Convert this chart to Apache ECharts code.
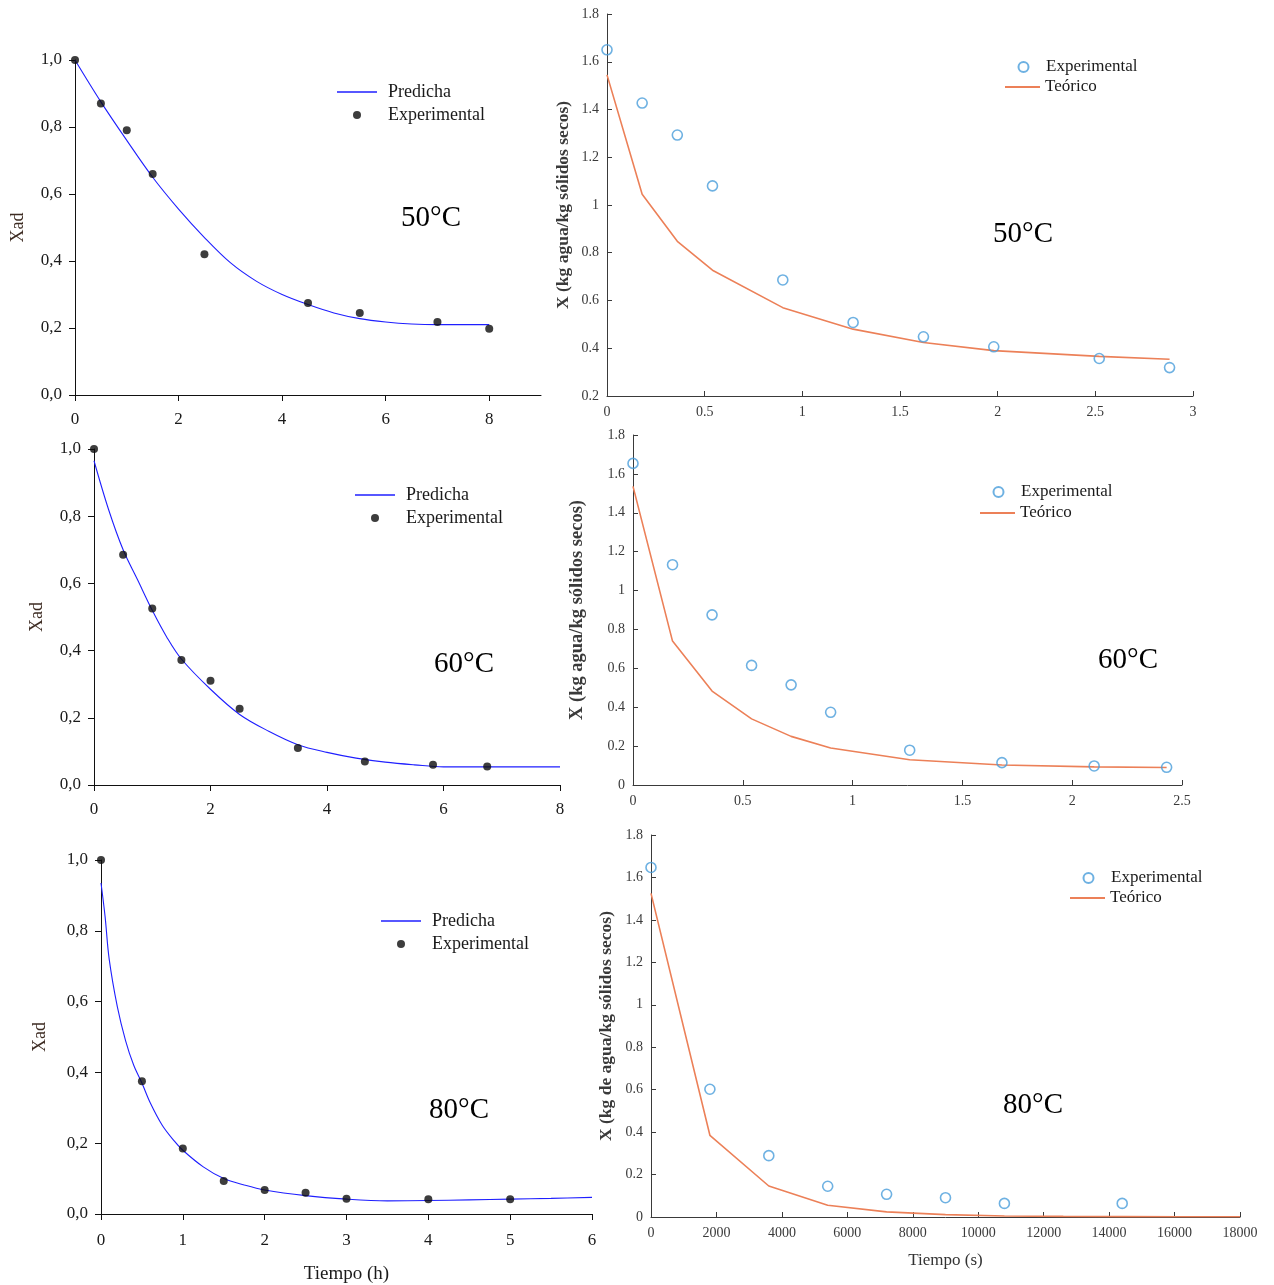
<!DOCTYPE html>
<html>
<head>
<meta charset="utf-8">
<script src="https://cdn.jsdelivr.net/npm/echarts@6/dist/echarts.min.js"></script>
<style>
html, body { margin: 0; padding: 0; background: #fff; }
#chart { width: 1274px; height: 1285px; }
</style>
</head>
<body>
<div id="chart"></div>
<script>
// ---- Dimensionless moisture Xad vs time (h): experimental points and fitted curve ----
const expT50 = [0, 0.5, 1, 1.5, 2.5, 4.5, 5.5, 7, 8];
const expXad50 = [1.0, 0.87, 0.79, 0.66, 0.42, 0.275, 0.245, 0.218, 0.198];
const fitT50 = [0, 0.5, 1, 1.5, 2, 2.5, 3, 3.5, 4, 4.5, 5, 5.5, 6, 6.5, 7, 7.5, 8];
const fitXad50 = [1.0, 0.875, 0.76, 0.65, 0.555, 0.47, 0.395, 0.34, 0.30, 0.27, 0.245, 0.228, 0.218, 0.212, 0.21, 0.21, 0.21];

const expT60 = [0, 0.5, 1, 1.5, 2, 2.5, 3.5, 4.65, 5.82, 6.75];
const expXad60 = [1.0, 0.685, 0.525, 0.372, 0.31, 0.227, 0.11, 0.07, 0.06, 0.055];
const fitT60 = [0, 0.25, 0.5, 0.75, 1, 1.25, 1.5, 2, 2.5, 3, 3.5, 4, 4.5, 5, 5.5, 6, 7, 8];
const fitXad60 = [0.965, 0.82, 0.70, 0.61, 0.52, 0.44, 0.375, 0.285, 0.21, 0.16, 0.12, 0.097, 0.08, 0.068, 0.06, 0.054, 0.054, 0.054];

const expT80 = [0, 0.5, 1, 1.5, 2, 2.5, 3, 4, 5];
const expXad80 = [1.0, 0.375, 0.185, 0.093, 0.068, 0.06, 0.043, 0.042, 0.042];
const fitT80 = [0, 0.05, 0.1, 0.2, 0.3, 0.4, 0.5, 0.6, 0.75, 0.9, 1, 1.25, 1.5, 1.75, 2, 2.5, 3, 3.5, 4, 4.5, 5, 5.5, 6];
const fitXad80 = [0.935, 0.84, 0.72, 0.585, 0.49, 0.42, 0.37, 0.315, 0.25, 0.205, 0.18, 0.133, 0.10, 0.082, 0.068, 0.052, 0.042, 0.037, 0.038, 0.04, 0.042, 0.044, 0.047];

// ---- Moisture content X (kg agua/kg sólidos secos): experimental vs theoretical ----
const timeR50 = [0, 0.18, 0.36, 0.54, 0.9, 1.26, 1.62, 1.98, 2.52, 2.88];
const expX50 = [1.65, 1.427, 1.293, 1.08, 0.686, 0.508, 0.448, 0.406, 0.357, 0.319];
const teoX50 = [1.545, 1.045, 0.848, 0.727, 0.57, 0.48, 0.424, 0.39, 0.366, 0.354];

const timeR60 = [0, 0.18, 0.36, 0.54, 0.72, 0.9, 1.26, 1.68, 2.1, 2.43];
const expX60 = [1.654, 1.133, 0.875, 0.615, 0.515, 0.374, 0.179, 0.115, 0.098, 0.091];
const teoX60 = [1.536, 0.74, 0.483, 0.34, 0.25, 0.19, 0.13, 0.103, 0.093, 0.09];

const expTs80 = [0, 1800, 3600, 5400, 7200, 9000, 10800, 14400];
const expX80 = [1.647, 0.602, 0.289, 0.145, 0.107, 0.091, 0.064, 0.064];
const teoTs80 = [0, 1800, 3600, 5400, 7200, 9000, 10800, 12600, 14400, 16200, 18000];
const teoX80 = [1.525, 0.385, 0.146, 0.055, 0.024, 0.011, 0.005, 0.003, 0.002, 0.001, 0.001];

// ---- Tick values ----
const xadTicks = [0, 0.2, 0.4, 0.6, 0.8, 1.0];
const hourTicks8 = [0, 2, 4, 6, 8];
const hourTicks6 = [0, 1, 2, 3, 4, 5, 6];

const SERIF = '"Liberation Serif", "DejaVu Serif", serif';
const pairs = (xs, ys) => xs.map((x, i) => [x, ys[i]]);

const grids = [], xAxes = [], yAxes = [], series = [], legends = [], texts = [];

// One legend entry per component so each row sits exactly under its neighbour.
// Symbol icons are drawn at the start of the item box, so they are shifted to sit
// at the centre of the line icon above/below them.
function legendItem(name, icon, left, cy, itemWidth, itemHeight, fontSize, textPad) {
  const shift = icon === 'circle' ? itemWidth / 2 - itemHeight / 2 : 0;
  legends.push({
    data: [{ name: name, icon: icon }],
    left: left + shift, top: cy - fontSize / 2 - 1,
    padding: 0, itemWidth: itemWidth, itemHeight: itemHeight,
    selectedMode: false,
    formatter: n => n.split('@')[0],
    textStyle: { fontFamily: SERIF, fontSize: fontSize, color: '#1a1a1a', padding: [0, 0, 0, textPad] }
  });
}

// Left column: Xad vs time (h)
function leftPanel(p) {
  const gi = grids.length;
  grids.push({ left: p.left, top: p.top, width: p.width, height: p.height, containLabel: false });
  xAxes.push({
    type: 'value', gridIndex: gi, min: 0, max: p.xMax,
    name: p.xName || '', nameLocation: 'middle', nameGap: 51,
    nameTextStyle: { fontFamily: SERIF, fontSize: 19, color: '#1a1a1a' },
    axisLine: { lineStyle: { color: '#111', width: 1 } },
    axisTick: { length: 6, lineStyle: { color: '#111' }, customValues: p.xTicks },
    axisLabel: { customValues: p.xTicks, fontFamily: SERIF, fontSize: 17, color: '#1a1a1a', margin: p.xMargin },
    splitLine: { show: false }
  });
  yAxes.push({
    type: 'value', gridIndex: gi, min: 0, max: 1, interval: 0.2,
    name: 'Xad', nameLocation: 'middle', nameRotate: 90, nameGap: p.nameGap,
    nameTextStyle: { fontFamily: SERIF, fontSize: 18, color: '#3d2b22' },
    axisLine: { show: true, lineStyle: { color: '#111', width: 1 } },
    axisTick: { show: true, length: 6, lineStyle: { color: '#111' }, customValues: xadTicks },
    axisLabel: { customValues: xadTicks, fontFamily: SERIF, fontSize: 17, color: '#1a1a1a', margin: 13,
      formatter: v => v.toFixed(1).replace('.', ',') },
    splitLine: { show: false }
  });
  series.push({
    name: 'Predicha@' + p.tag, type: 'line', xAxisIndex: gi, yAxisIndex: gi,
    data: pairs(p.fitX, p.fitY), smooth: 0.35, symbol: 'none',
    lineStyle: { color: '#1f1fff', width: 1.1 }, itemStyle: { color: '#1f1fff' }, z: 2
  });
  series.push({
    name: 'Experimental@' + p.tag, type: 'scatter', xAxisIndex: gi, yAxisIndex: gi,
    data: pairs(p.expX, p.expY), symbol: 'circle', symbolSize: 8,
    itemStyle: { color: '#0d0d0d' }, z: 3
  });
  legendItem('Predicha@' + p.tag, 'rect', p.lg[0], p.lg[1], 40, 1.3, 18, 6);
  legendItem('Experimental@' + p.tag, 'circle', p.lg[0], p.lg[1] + 23, 40, 8, 18, 6);
  texts.push({ text: p.temp, x: p.tempPos[0], y: p.tempPos[1] });
}

// Right column: X vs time
function rightPanel(p) {
  const gi = grids.length;
  grids.push({ left: p.left, top: p.top, width: p.width, height: p.height, containLabel: false });
  xAxes.push({
    type: 'value', gridIndex: gi, min: 0, max: p.xMax, interval: p.xInterval,
    name: p.xName || '', nameLocation: 'middle', nameGap: 35,
    nameTextStyle: { fontFamily: SERIF, fontSize: 17, color: '#333' },
    axisLine: { lineStyle: { color: '#3a3a3a', width: 1 } },
    axisTick: { inside: true, length: 5, lineStyle: { color: '#3a3a3a' } },
    axisLabel: { fontFamily: SERIF, fontSize: 14, color: '#3a3a3a', margin: 9, formatter: v => String(v) },
    splitLine: { show: false }
  });
  yAxes.push({
    type: 'value', gridIndex: gi, min: p.yMin, max: 1.8, interval: 0.2,
    name: p.yName, nameLocation: 'middle', nameRotate: 90, nameGap: p.nameGap,
    nameTextStyle: { fontFamily: SERIF, fontSize: p.nameSize, fontWeight: 'bold', color: '#3a3a3a' },
    axisLine: { show: true, lineStyle: { color: '#3a3a3a', width: 1 } },
    axisTick: { show: true, inside: true, length: 5, lineStyle: { color: '#3a3a3a' } },
    axisLabel: { fontFamily: SERIF, fontSize: 14, color: '#3a3a3a', margin: 8,
      formatter: v => String(Math.round(v * 10) / 10) },
    splitLine: { show: false }
  });
  series.push({
    name: 'Experimental@' + p.tag, type: 'scatter', xAxisIndex: gi, yAxisIndex: gi,
    data: pairs(p.expX, p.expY), symbol: 'circle', symbolSize: 10,
    itemStyle: { color: 'rgba(255,255,255,0)', borderColor: '#4a9edb', borderWidth: 1.6 }, z: 3
  });
  series.push({
    name: 'Teórico@' + p.tag, type: 'line', xAxisIndex: gi, yAxisIndex: gi,
    data: pairs(p.teoX, p.teoY), symbol: 'none',
    lineStyle: { color: '#ec8058', width: 1.6 }, itemStyle: { color: '#ec8058' }, z: 2
  });
  legendItem('Experimental@' + p.tag, 'circle', p.lg[0], p.lg[1], 35, 10, 17, 0);
  legendItem('Teórico@' + p.tag, 'rect', p.lg[0], p.lg[1] + p.lgStep, 35, 1.8, 17, 0);
  texts.push({ text: p.temp, x: p.tempPos[0], y: p.tempPos[1] });
}

leftPanel({ tag: 'a', left: 75, top: 60, width: 466, height: 335, xMax: 9, xTicks: hourTicks8, nameGap: 48, xMargin: 16,
  expX: expT50, expY: expXad50, fitX: fitT50, fitY: fitXad50, lg: [337, 93], temp: '50°C', tempPos: [431, 218] });
leftPanel({ tag: 'b', left: 94, top: 449, width: 466, height: 336, xMax: 8, xTicks: hourTicks8, nameGap: 48, xMargin: 16,
  expX: expT60, expY: expXad60, fitX: fitT60, fitY: fitXad60, lg: [355, 496], temp: '60°C', tempPos: [464, 664] });
leftPanel({ tag: 'c', left: 101, top: 860, width: 491, height: 354, xMax: 6, xTicks: hourTicks6, nameGap: 52, xMargin: 18,
  xName: 'Tiempo (h)',
  expX: expT80, expY: expXad80, fitX: fitT80, fitY: fitXad80, lg: [381, 922], temp: '80°C', tempPos: [459, 1110] });

rightPanel({ tag: 'd', left: 607, top: 14, width: 586, height: 382, xMax: 3, xInterval: 0.5, yMin: 0.2,
  nameGap: 35, nameSize: 17.5,
  yName: 'X (kg agua/kg sólidos secos)',
  expX: timeR50, expY: expX50, teoX: timeR50, teoY: teoX50, lg: [1005, 68], lgStep: 20, temp: '50°C', tempPos: [1023, 234] });
rightPanel({ tag: 'e', left: 633, top: 435, width: 549, height: 350, xMax: 2.5, xInterval: 0.5, yMin: 0,
  nameGap: 46, nameSize: 18.5,
  yName: 'X (kg agua/kg sólidos secos)',
  expX: timeR60, expY: expX60, teoX: timeR60, teoY: teoX60, lg: [980, 493], lgStep: 21, temp: '60°C', tempPos: [1128, 660] });
rightPanel({ tag: 'f', left: 651, top: 835, width: 589, height: 382, xMax: 18000, xInterval: 2000, yMin: 0,
  nameGap: 36, nameSize: 17.5,
  yName: 'X (kg de agua/kg sólidos secos)', xName: 'Tiempo (s)',
  expX: expTs80, expY: expX80, teoX: teoTs80, teoY: teoX80, lg: [1070, 879], lgStep: 20, temp: '80°C', tempPos: [1033, 1105] });

const chart = echarts.init(document.getElementById('chart'), null, { renderer: 'canvas' });
chart.setOption({
  backgroundColor: '#ffffff',
  animation: false,
  grid: grids,
  xAxis: xAxes,
  yAxis: yAxes,
  series: series,
  legend: legends,
  graphic: texts.map(t => ({
    type: 'text', x: t.x, y: t.y, z: 10,
    style: { text: t.text, fontFamily: SERIF, fontSize: 29, fill: '#000',
      textAlign: 'center', textVerticalAlign: 'middle' }
  }))
});
</script>
</body>
</html>
